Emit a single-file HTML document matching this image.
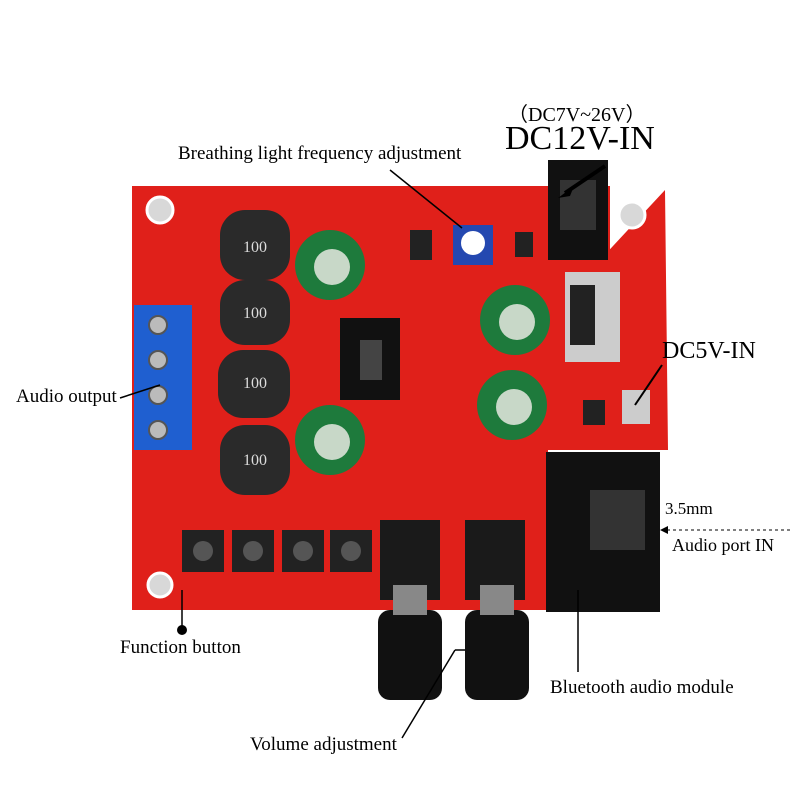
<!DOCTYPE html>
<html><head><style>
body{margin:0;background:#fff;}
.t{position:absolute;font-family:"Liberation Serif",serif;color:#000;white-space:nowrap;}
</style></head><body>
<div style="position:relative;width:800px;height:800px;overflow:hidden;">
<svg width="800" height="800" style="position:absolute;left:0;top:0">
<path d="M132 186 L545 186 L545 230 L600 260 L665 190 L668 450 L548 450 L548 610 L132 610 Z" fill="#e0201a"/>
<path d="M545 186 L545 262 L610 262 L610 186 Z" fill="#e0201a"/>
<circle cx="160" cy="210" r="13" fill="#d8d8d8" stroke="#fff" stroke-width="3"/>
<circle cx="632" cy="215" r="13" fill="#d8d8d8" stroke="#fff" stroke-width="3"/>
<circle cx="160" cy="585" r="12" fill="#d8d8d8" stroke="#fff" stroke-width="3"/>
<rect x="548" y="160" width="60" height="100" fill="#111"/>
<rect x="560" y="180" width="36" height="50" fill="#333"/>
<rect x="565" y="272" width="55" height="90" fill="#ccc"/>
<rect x="570" y="285" width="25" height="60" fill="#222"/>
<rect x="134" y="305" width="58" height="145" fill="#1f5fd0"/>
<g fill="#bbb" stroke="#555" stroke-width="2">
<circle cx="158" cy="325" r="9"/><circle cx="158" cy="360" r="9"/><circle cx="158" cy="395" r="9"/><circle cx="158" cy="430" r="9"/></g>
<g fill="#2a2a2a">
<rect x="220" y="210" width="70" height="70" rx="25"/>
<rect x="220" y="280" width="70" height="65" rx="25"/>
<rect x="218" y="350" width="72" height="68" rx="25"/>
<rect x="220" y="425" width="70" height="70" rx="25"/>
</g>
<g font-family="Liberation Serif" font-size="16" fill="#ddd" text-anchor="middle">
<text x="255" y="252">100</text><text x="255" y="318">100</text><text x="255" y="388">100</text><text x="255" y="465">100</text></g>
<g fill="#1e7a3c">
<circle cx="330" cy="265" r="35"/><circle cx="515" cy="320" r="35"/><circle cx="330" cy="440" r="35"/><circle cx="512" cy="405" r="35"/></g>
<g fill="#c8d8c8">
<circle cx="332" cy="267" r="18"/><circle cx="517" cy="322" r="18"/><circle cx="332" cy="442" r="18"/><circle cx="514" cy="407" r="18"/></g>
<rect x="340" y="318" width="60" height="82" fill="#111"/>
<rect x="360" y="340" width="22" height="40" fill="#444"/>
<rect x="453" y="225" width="40" height="40" fill="#2448b0"/>
<circle cx="473" cy="243" r="12" fill="#fff"/>
<g fill="#222"><rect x="182" y="530" width="42" height="42"/><rect x="232" y="530" width="42" height="42"/><rect x="282" y="530" width="42" height="42"/><rect x="330" y="530" width="42" height="42"/></g>
<g fill="#555"><circle cx="203" cy="551" r="10"/><circle cx="253" cy="551" r="10"/><circle cx="303" cy="551" r="10"/><circle cx="351" cy="551" r="10"/></g>
<rect x="380" y="520" width="60" height="80" fill="#1a1a1a"/>
<rect x="465" y="520" width="60" height="80" fill="#1a1a1a"/>
<rect x="378" y="610" width="64" height="90" rx="12" fill="#111"/>
<rect x="465" y="610" width="64" height="90" rx="12" fill="#111"/>
<rect x="393" y="585" width="34" height="30" fill="#888"/>
<rect x="480" y="585" width="34" height="30" fill="#888"/>
<rect x="546" y="452" width="114" height="160" fill="#111"/>
<rect x="590" y="490" width="55" height="60" fill="#333"/>
<g fill="#222"><rect x="583" y="400" width="22" height="25"/><rect x="410" y="230" width="22" height="30"/><rect x="515" y="232" width="18" height="25"/></g>
<rect x="622" y="390" width="28" height="34" fill="#ccc"/>
<g stroke="#000" fill="none">
<line x1="605" y1="166" x2="565" y2="193" stroke-width="4"/>
<line x1="390" y1="170" x2="462" y2="228" stroke-width="1.5"/>
<line x1="120" y1="398" x2="160" y2="385" stroke-width="1.5"/>
<line x1="662" y1="365" x2="635" y2="405" stroke-width="2"/>
<line x1="182" y1="628" x2="182" y2="590" stroke-width="1.5"/>
<line x1="578" y1="672" x2="578" y2="590" stroke-width="1.5"/>
<line x1="402" y1="738" x2="455" y2="650" stroke-width="1.5"/>
<line x1="455" y1="650" x2="465" y2="650" stroke-width="1.5"/>
<line x1="790" y1="530" x2="665" y2="530" stroke-width="1" stroke-dasharray="3,3"/>
</g>
<polygon points="558,198 574,186 570,196" fill="#000"/>
<polygon points="660,530 668,526 668,534" fill="#000"/>
<circle cx="182" cy="630" r="5" fill="#000"/>
</svg>
<div class="t" style="left:508px;top:98px;font-size:20px">（DC7V~26V）</div>
<div class="t" style="left:505px;top:120px;font-size:34px">DC12V-IN</div>
<div class="t" style="left:178px;top:143px;font-size:19px">Breathing light frequency adjustment</div>
<div class="t" style="left:662px;top:338px;font-size:24px">DC5V-IN</div>
<div class="t" style="left:16px;top:386px;font-size:19px">Audio output</div>
<div class="t" style="left:665px;top:499px;font-size:17px">3.5mm</div>
<div class="t" style="left:672px;top:535px;font-size:18px">Audio port IN</div>
<div class="t" style="left:120px;top:637px;font-size:19px">Function button</div>
<div class="t" style="left:550px;top:677px;font-size:19px">Bluetooth audio module</div>
<div class="t" style="left:250px;top:734px;font-size:19px">Volume adjustment</div>
</div>
</body></html>
